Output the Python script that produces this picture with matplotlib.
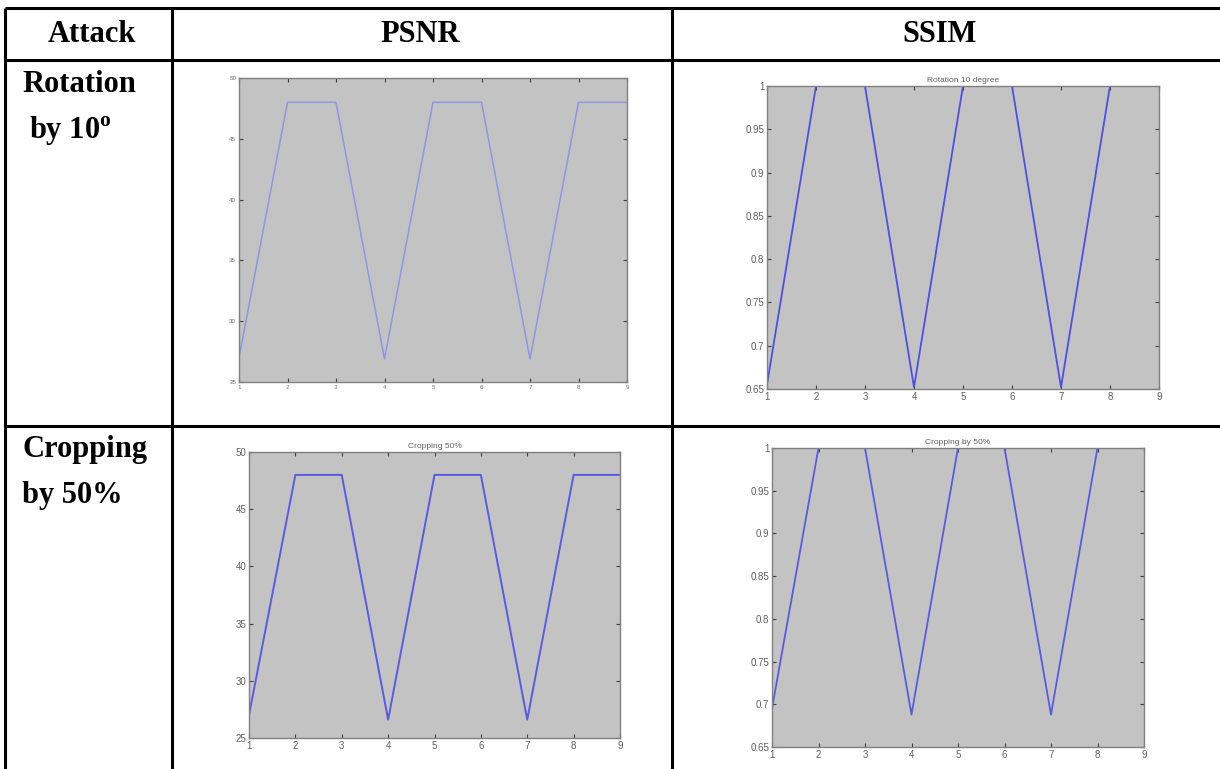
import matplotlib
matplotlib.use('Agg')
import matplotlib.pyplot as plt

# table of results: PSNR / SSIM per frame for two attacks
frames = [1, 2, 3, 4, 5, 6, 7, 8, 9]
psnr_rotation = [27, 48, 48, 26.9, 48, 48, 26.9, 48, 48]
ssim_rotation = [0.655, 1, 1, 0.652, 1, 1, 0.652, 1, 1]
psnr_cropping = [27, 48, 48, 26.6, 48, 48, 26.6, 48, 48]
ssim_cropping = [0.695, 1, 1, 0.688, 1, 1, 0.688, 1, 1]

psnr_ticks = [25, 30, 35, 40, 45, 50]
ssim_ticks = [0.65, 0.7, 0.75, 0.8, 0.85, 0.9, 0.95, 1]
ssim_ticklabels = ['0.65', '0.7', '0.75', '0.8', '0.85', '0.9', '0.95', '1']

headers = ['Attack', 'PSNR', 'SSIM']
titles = ['', 'Rotation 10 degree', 'Cropping 50%', 'Cropping by 50%']

W, H = 1220, 769
plt.rcParams['mathtext.fontset'] = 'custom'
plt.rcParams['mathtext.rm'] = 'Liberation Serif'
plt.rcParams['mathtext.bf'] = 'Liberation Serif:bold'

fig = plt.figure(figsize=(W / 100, H / 100), dpi=100)
fig.patch.set_facecolor('white')

# overlay in pixel coords for the table grid and text
grid = fig.add_axes([0, 0, 1, 1])
grid.set_xlim(0, W)
grid.set_ylim(H, 0)
grid.axis('off')

lw = 2.2
for y in [8, 60, 426]:
    grid.plot([5, W], [y, y], color='black', lw=lw, solid_capstyle='butt')
for x in [5, 172, 672]:
    grid.plot([x, x], [8, H], color='black', lw=lw, solid_capstyle='butt')

serif = dict(family='Liberation Serif', fontweight='bold', fontsize=22, color='black')
for hx, txt in zip([92, 420, 940], headers):
    grid.text(hx, 34, txt, ha='center', va='center', **serif)

grid.text(22, 85, 'Rotation', ha='left', va='center', **serif)
grid.text(29, 131, r'by 10$^{\mathbf{o}}$', ha='left', va='center', **serif)
grid.text(22, 450, 'Cropping', ha='left', va='center', **serif)
grid.text(22, 496, 'by 50%', ha='left', va='center', **serif)


def px_axes(left, top, right, bottom):
    return fig.add_axes([left / W, 1 - bottom / H, (right - left) / W, (bottom - top) / H])


def matlab_style(ax, ticks, ticklabels, lim, fs, lab_color, title):
    ax.set_facecolor('#c3c3c3')
    ax.set_xlim(1, 9)
    ax.set_ylim(*lim)
    ax.set_xticks(frames)
    ax.set_yticks(ticks)
    ax.set_yticklabels(ticklabels)
    for s in ax.spines.values():
        s.set_color('#808080')
        s.set_linewidth(1.0)
    ax.tick_params(direction='in', length=3, width=0.8, color='#404040',
                   top=True, right=True, labelsize=fs, labelcolor=lab_color, pad=2)
    for lab in ax.get_xticklabels() + ax.get_yticklabels():
        lab.set_family('Liberation Sans')
    if title:
        ax.set_title(title, fontsize=6, color='#606060', pad=3, family='Liberation Sans')


ax1 = px_axes(239, 78, 627, 382)
ax1.plot(frames, psnr_rotation, color='#9494e4', lw=1.1)
matlab_style(ax1, psnr_ticks, [str(t) for t in psnr_ticks], (25, 50), 4.5, '#707070', titles[0])

ax2 = px_axes(767, 86, 1159, 389)
ax2.plot(frames, ssim_rotation, color='#4f4fe0', lw=1.3)
matlab_style(ax2, ssim_ticks, ssim_ticklabels, (0.65, 1), 7, '#606060', titles[1])

ax3 = px_axes(249, 452, 620, 738)
ax3.plot(frames, psnr_cropping, color='#5a5ae2', lw=1.4)
matlab_style(ax3, psnr_ticks, [str(t) for t in psnr_ticks], (25, 50), 7, '#606060', titles[2])

ax4 = px_axes(772, 448, 1144, 747)
ax4.plot(frames, ssim_cropping, color='#5a5ae0', lw=1.3)
matlab_style(ax4, ssim_ticks, ssim_ticklabels, (0.65, 1), 7, '#606060', titles[3])

fig.savefig('out.png', dpi=100, facecolor='white')
